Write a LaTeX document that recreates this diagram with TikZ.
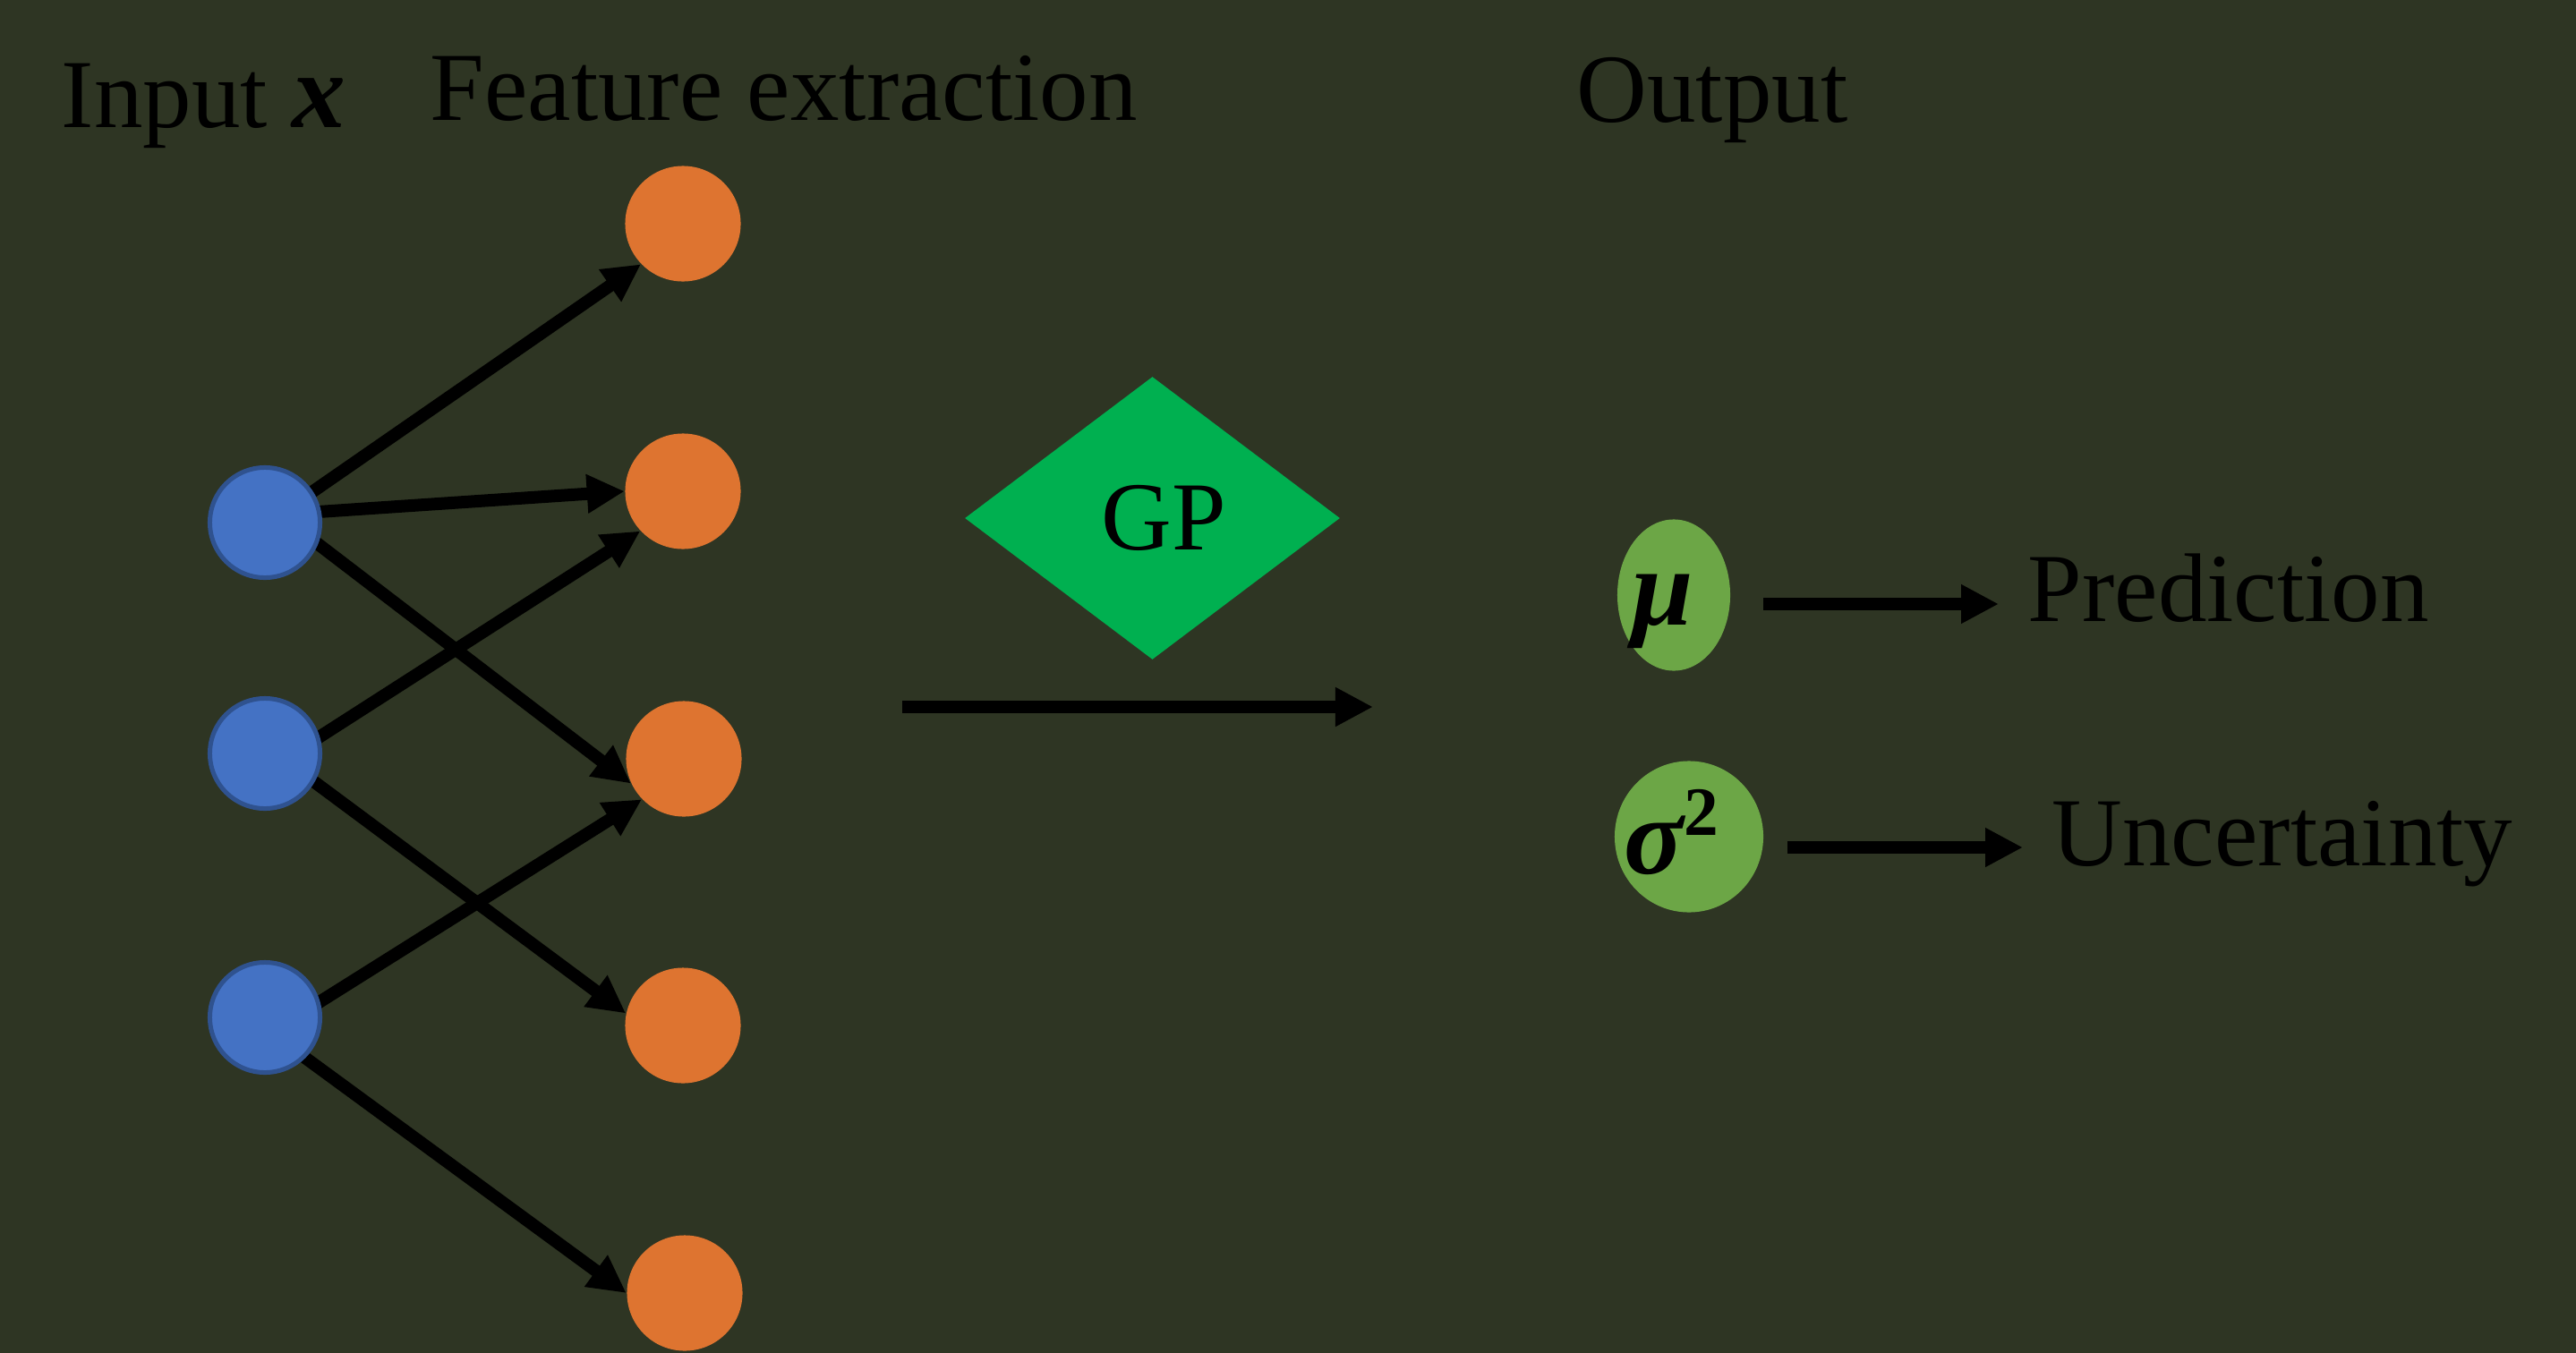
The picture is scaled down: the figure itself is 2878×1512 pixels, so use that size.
\documentclass[tikz,border=0pt]{standalone}
\usepackage{fontspec}
\setmainfont{Liberation Serif}
\usetikzlibrary{arrows.meta,shapes.geometric,calc}
\definecolor{bgcol}{HTML}{2E3523}
\definecolor{bluefill}{HTML}{4472C4}
\definecolor{blueline}{HTML}{2F528F}
\definecolor{orangefill}{HTML}{DE7430}
\definecolor{greenfill}{HTML}{6CA646}
\definecolor{gpgreen}{HTML}{00B050}
\pgfdeclarelayer{bg}
\pgfdeclarelayer{lines}
\pgfsetlayers{bg,lines,main}
\tikzset{
  txt/.style={font=\fontsize{31pt}{37pt}\selectfont, inner sep=0pt, text=black},
  mathtxt/.style={font=\fontsize{35pt}{42pt}\selectfont\bfseries\itshape, inner sep=0pt, text=black},
  inneuron/.style={circle, fill=bluefill, draw=blueline, line width=0.05cm, minimum size=1.23cm, inner sep=0pt},
  featneuron/.style={circle, fill=orangefill, minimum size=1.29cm, inner sep=0pt},
  outnode/.style={ellipse, fill=greenfill, inner sep=0pt},
  conn/.style={line width=0.14cm, draw=black, -{Triangle[length=0.42cm,width=0.41cm]}},
}
\begin{document}
\begin{tikzpicture}[x=0.01cm,y=-0.01cm]
\useasboundingbox (0,0) rectangle (2878,1512);
\begin{pgfonlayer}{bg}
\fill[bgcol] (0,0) rectangle (2878,1512);
\end{pgfonlayer}

% headers
\node[txt, anchor=base west] (hin) at (68,142) {Input {\fontsize{34pt}{40pt}\selectfont\bfseries\itshape x}};
\node[txt, anchor=base west] (hfe) at (480,134) {Feature extraction};
\node[txt, anchor=base west] (hout) at (1761,136) {Output};

% input neurons
\node[inneuron] (B1) at (296,584) {};
\node[inneuron] (B2) at (296,842) {};
\node[inneuron] (B3) at (296,1137) {};

% feature neurons
\node[featneuron] (O1) at (763,250) {};
\node[featneuron] (O2) at (763,549) {};
\node[featneuron] (O3) at (764,848) {};
\node[featneuron] (O4) at (763,1146) {};
\node[featneuron] (O5) at (765,1445) {};

% connections (behind the input neurons)
\begin{pgfonlayer}{lines}
\draw[conn] ($(B1.33)!-0.15cm!(O1.224)$) -- (O1.224);
\draw[conn] ($(B1.11)!-0.15cm!(O2.180)$) -- (O2.180);
\draw[conn] ($(B1.-22)!-0.15cm!(O3.205)$) -- (O3.205);
\draw[conn] ($(B2.17)!-0.15cm!(O2.223)$) -- (O2.223);
\draw[conn] ($(B2.-30)!-0.15cm!(O4.168)$) -- (O4.168);
\draw[conn] ($(B3.16)!-0.15cm!(O3.224)$) -- (O3.224);
\draw[conn] ($(B3.-45)!-0.15cm!(O5.180)$) -- (O5.180);
\end{pgfonlayer}

% GP
\node[diamond, fill=gpgreen, minimum width=4.19cm, minimum height=3.16cm, txt] (gp) at (1287.5,579) {\hspace*{0.26cm}GP};
\coordinate (gpin) at (1008,790);
\coordinate (gpout) at (1534,790);
\draw[conn] (gpin) -- (gpout);

% outputs
\node[outnode, minimum width=1.26cm, minimum height=1.69cm] (mu) at (1870,665) {};
\node[mathtxt, anchor=base] (mutxt) at (1858,698) {μ};
\node[outnode, minimum width=1.66cm, minimum height=1.69cm] (sig) at (1887,935) {};
\node[mathtxt, anchor=base west] (sigtxt) at (1814,976) {σ\raisebox{0.42cm}{\fontsize{22pt}{26pt}\selectfont\upshape 2}};

\coordinate (mua) at (1970,675);
\coordinate (mub) at (2233,675);
\draw[conn] (mua) -- (mub);
\node[txt, anchor=base west] (pred) at (2265,694) {Prediction};

\coordinate (siga) at (1997,947);
\coordinate (sigb) at (2260,947);
\draw[conn] (siga) -- (sigb);
\node[txt, anchor=base west] (unc) at (2292,967) {Uncertainty};
\end{tikzpicture}
\end{document}
